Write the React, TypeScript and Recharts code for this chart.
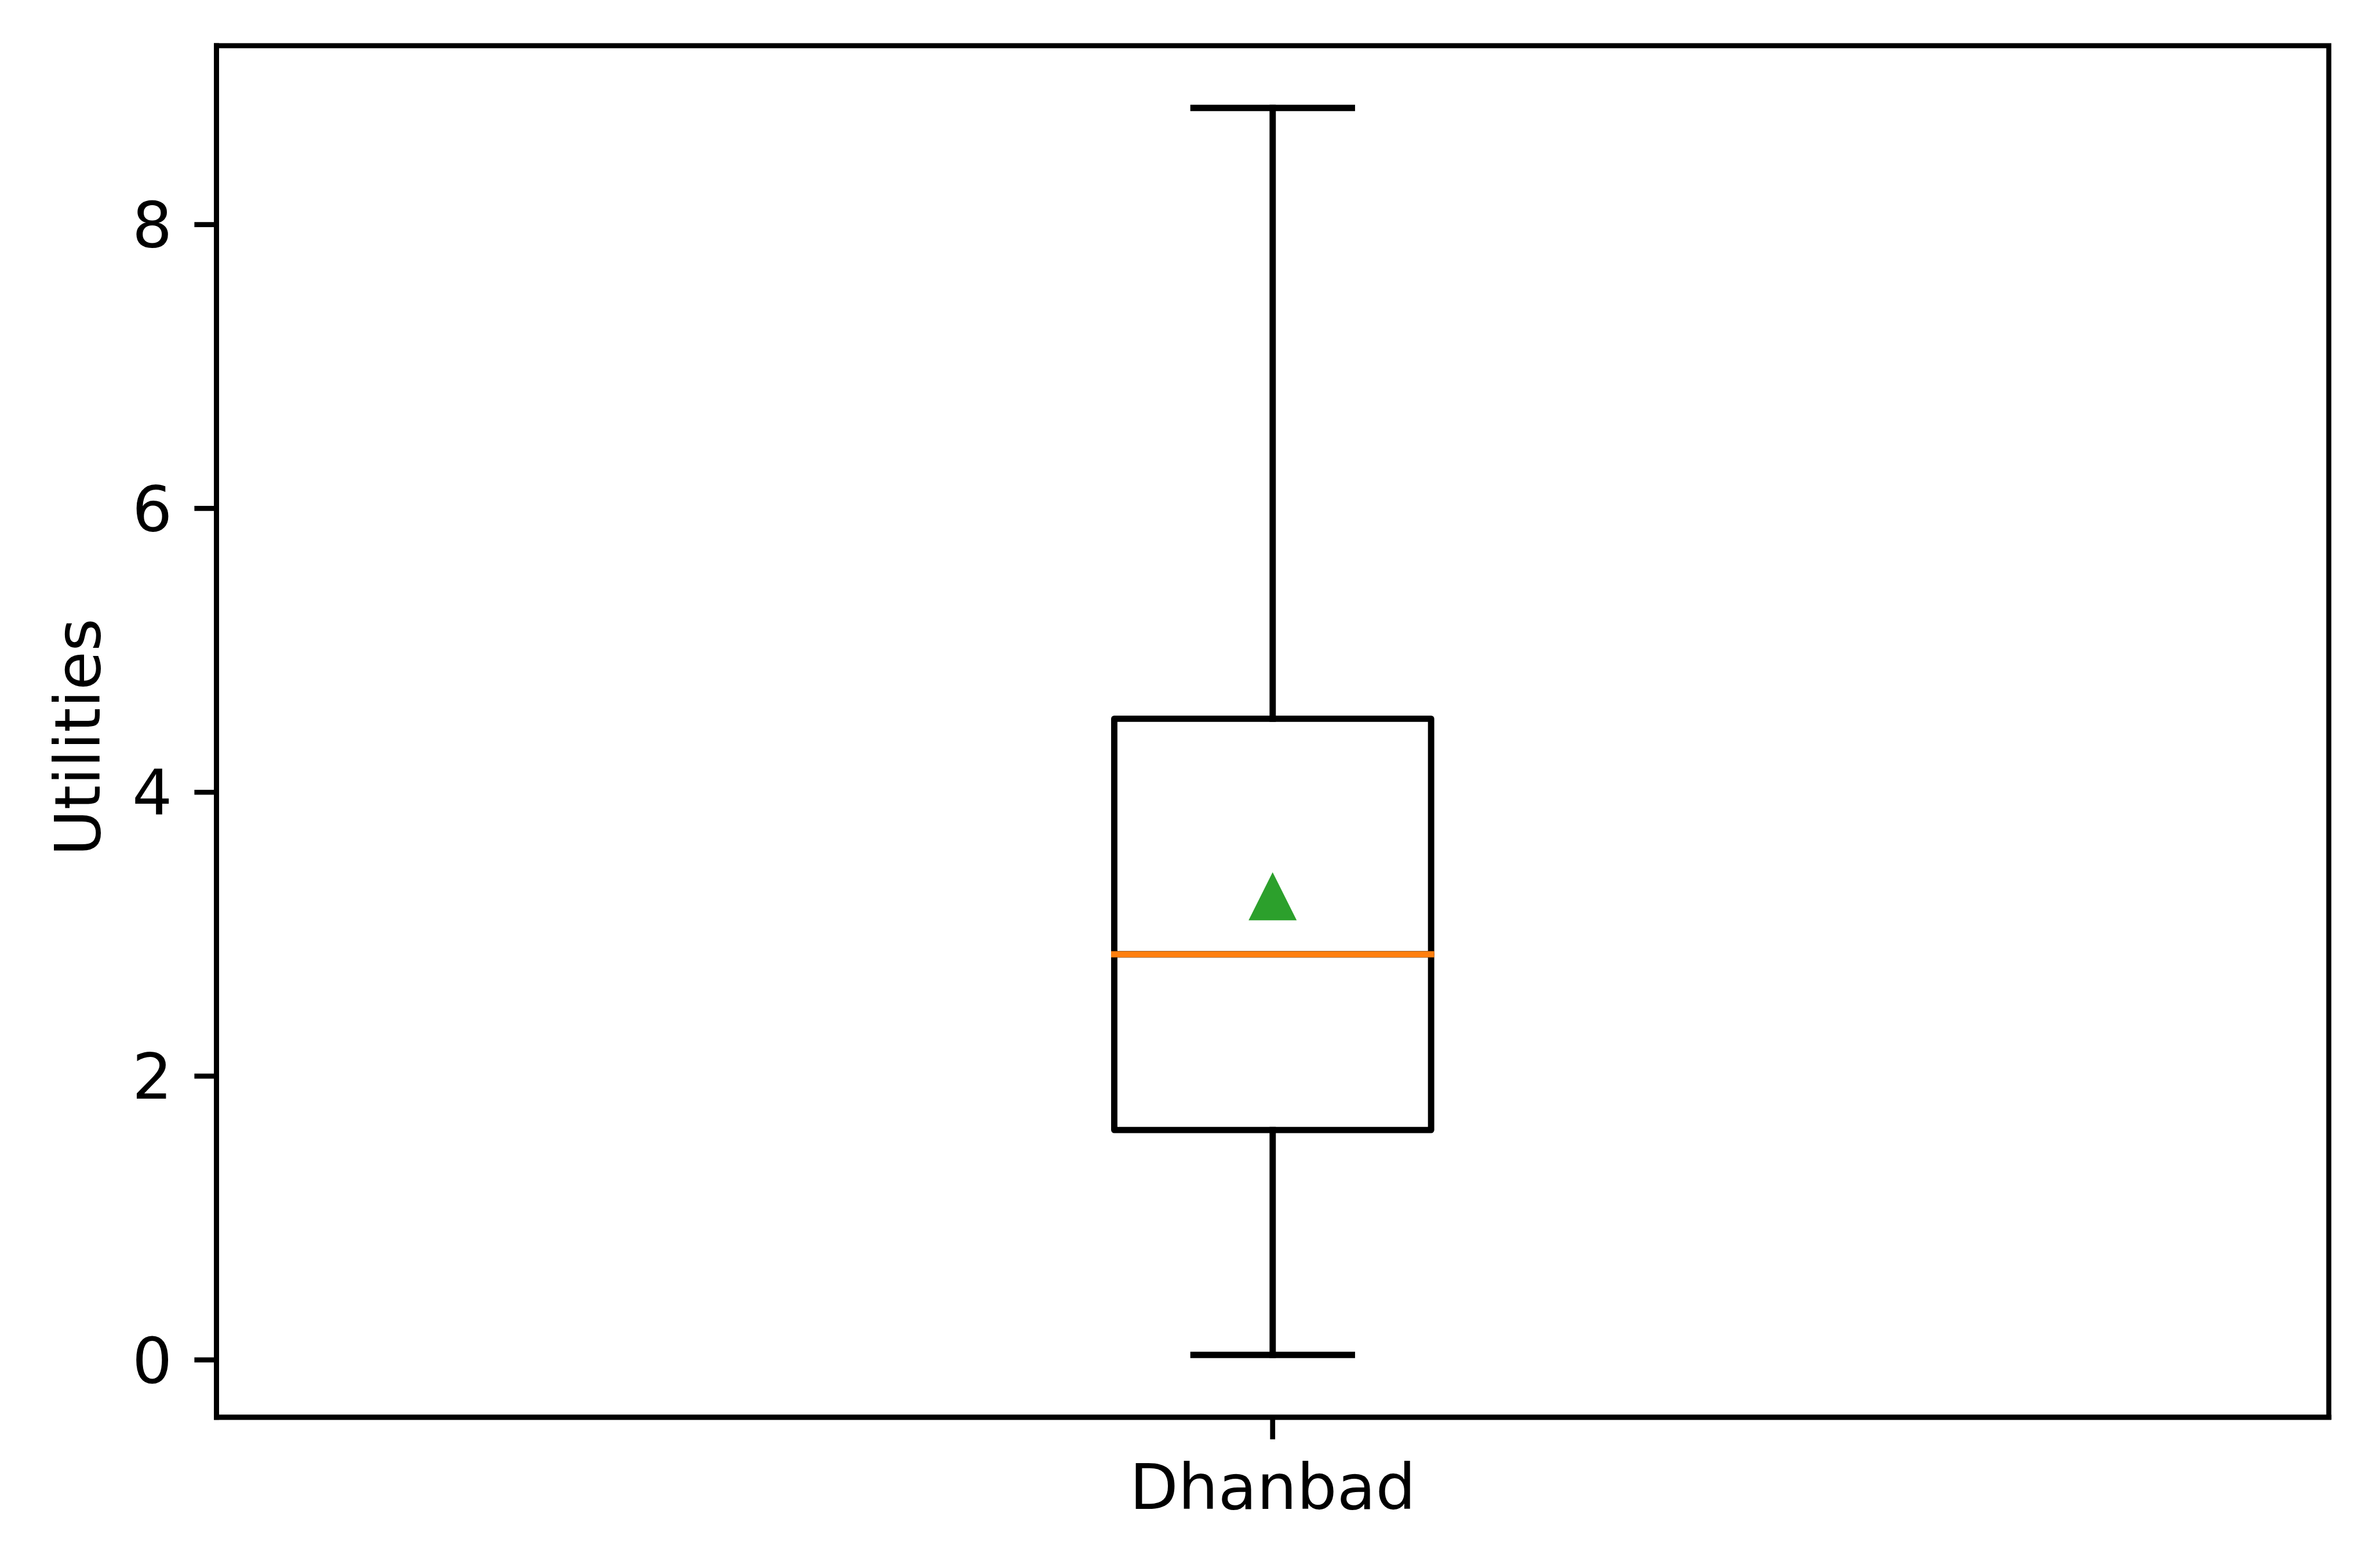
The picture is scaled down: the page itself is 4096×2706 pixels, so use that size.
import { ComposedChart, Bar, Scatter, XAxis, YAxis, ReferenceArea } from "recharts";

// box plot summary for one city
const categories = ["Dhanbad"];
const whiskerLow = [0.035];
const q1 = [1.62];
const median = [2.858];
const q3 = [4.518];
const whiskerHigh = [8.822];
const means = [3.267];
const yTicks = [0, 2, 4, 6, 8];
const yDomain = [-0.404, 9.261];

const PT = 10.89; // px per point at this size
const FONT = "DejaVu Sans";
const FONT_SIZE = 10 * PT;
const LW = 1 * PT;
const SPINE = 0.8 * PT;
const TICK = 3.5 * PT;
const MEDIAN_COLOR = "#ff7f0e";
const MEAN_COLOR = "#2ca02c";

const WIDTH = 4096;
const HEIGHT = 2706;
const LEFT = 373.5;
const RIGHT = 78;
const TOP = 78.8;
const BOTTOM = 260.2;
const BOX_SIZE = 0.15 * (WIDTH - LEFT - RIGHT);

const data = categories.map((name, i) => ({
  name,
  base: whiskerLow[i],
  lowerWhisker: q1[i] - whiskerLow[i],
  lowerBox: median[i] - q1[i],
  upperBox: q3[i] - median[i],
  upperWhisker: whiskerHigh[i] - q3[i],
  mean: means[i],
}));

const spineStyle = { stroke: "#000", strokeWidth: SPINE, strokeLinecap: "square" as const };
const tickStyle = { fill: "#000", fontSize: FONT_SIZE, fontFamily: FONT };

function whisker(props: any, upper: boolean) {
  const { x, y, width, height } = props;
  const top = Math.min(y, y + height);
  const bottom = Math.max(y, y + height);
  const cx = x + width / 2;
  const capY = upper ? top : bottom;
  const capHalf = width / 4;
  return (
    <g>
      <line x1={cx} x2={cx} y1={top} y2={bottom} stroke="#000" strokeWidth={LW} strokeLinecap="square" />
      <line x1={cx - capHalf} x2={cx + capHalf} y1={capY} y2={capY} stroke="#000" strokeWidth={LW} strokeLinecap="square" />
    </g>
  );
}

function boxPart(props: any, withMedian: boolean) {
  const { x, y, width, height } = props;
  const top = Math.min(y, y + height);
  const h = Math.abs(height);
  return (
    <g>
      <rect x={x} y={top} width={width} height={h} fill="none" stroke="#000" strokeWidth={LW} strokeLinejoin="round" />
      {withMedian && (
        <line x1={x} x2={x + width} y1={top + h} y2={top + h} stroke={MEDIAN_COLOR} strokeWidth={LW} strokeLinecap="square" />
      )}
    </g>
  );
}

function triangle(props: any) {
  const { cx, cy } = props;
  const r = 41.5;
  return <path d={`M${cx},${cy - r}L${cx + r},${cy + r}L${cx - r},${cy + r}Z`} fill={MEAN_COLOR} />;
}

function yLabel(props: any) {
  const vb = props.viewBox || { y: TOP, height: HEIGHT - TOP - BOTTOM };
  const cx = 172;
  const cy = vb.y + vb.height / 2 + 10;
  return (
    <text x={cx} y={cy} transform={`rotate(-90, ${cx}, ${cy})`} textAnchor="middle" fill="#000" fontSize={FONT_SIZE} fontFamily={FONT}>
      Utilities
    </text>
  );
}

export default function App() {
  return (
    <div style={{ position: "absolute", left: 0, top: 0, background: "#fff" }}>
      <ComposedChart width={WIDTH} height={HEIGHT} data={data} margin={{ top: TOP, right: RIGHT, left: 0, bottom: 0 }} barSize={BOX_SIZE}>
        <XAxis
          dataKey="name"
          type="category"
          height={BOTTOM}
          interval={0}
          tick={tickStyle}
          tickSize={TICK}
          tickMargin={43}
          tickLine={{ stroke: "#000", strokeWidth: SPINE }}
          axisLine={spineStyle}
        />
        <YAxis
          type="number"
          domain={yDomain}
          ticks={yTicks}
          allowDataOverflow
          width={LEFT}
          tick={tickStyle}
          tickSize={TICK}
          tickMargin={TICK}
          tickLine={{ stroke: "#000", strokeWidth: SPINE }}
          axisLine={spineStyle}
          label={yLabel}
        />
        {/* axes frame (top and right spines) */}
        <ReferenceArea
          x1={categories[0]}
          x2={categories[categories.length - 1]}
          y1={yDomain[0]}
          y2={yDomain[1]}
          ifOverflow="visible"
          fill="none"
          fillOpacity={0}
          stroke="#000"
          strokeWidth={SPINE}
          strokeOpacity={1}
        />
        <Bar dataKey="base" stackId="box" fill="none" isAnimationActive={false} shape={() => <g />} />
        <Bar dataKey="lowerWhisker" stackId="box" isAnimationActive={false} shape={(p: any) => whisker(p, false)} />
        <Bar dataKey="lowerBox" stackId="box" isAnimationActive={false} shape={(p: any) => boxPart(p, false)} />
        <Bar dataKey="upperBox" stackId="box" isAnimationActive={false} shape={(p: any) => boxPart(p, true)} />
        <Bar dataKey="upperWhisker" stackId="box" isAnimationActive={false} shape={(p: any) => whisker(p, true)} />
        <Scatter dataKey="mean" isAnimationActive={false} shape={triangle} />
      </ComposedChart>
    </div>
  );
}
